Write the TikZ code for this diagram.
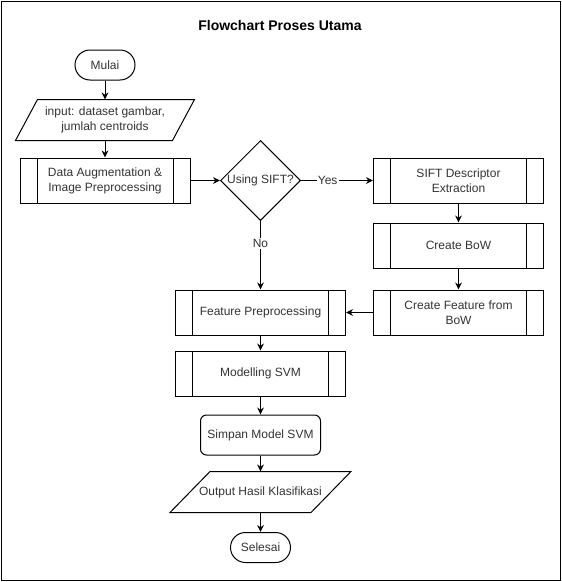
\documentclass[tikz,border=0pt]{standalone}
\usepackage{fontspec}
\setmainfont{Liberation Sans}
\usetikzlibrary{arrows.meta,shapes.geometric,calc}
\begin{document}
\begin{tikzpicture}[x=0.75pt,y=-0.75pt, line width=0.75pt,
 every node/.style={font=\fontsize{9}{11.25}\selectfont, text=black!80, align=center},
 proc/.style={draw, minimum width=127.5pt, minimum height=33.75pt, inner sep=0pt,
   path picture={\draw[line width=0.75pt] ([xshift=12.75pt]path picture bounding box.north west) -- ([xshift=12.75pt]path picture bounding box.south west);
                 \draw[line width=0.75pt] ([xshift=-12.75pt]path picture bounding box.north east) -- ([xshift=-12.75pt]path picture bounding box.south east);}},
 term/.style={draw, rounded corners=11.25pt, minimum width=45pt, minimum height=22.5pt, inner sep=0pt},
 arr/.style={-{Stealth[length=5.25pt,width=5pt]}},
 lab/.style={fill=white, inner sep=1pt}
]
\useasboundingbox (0,0) rectangle (561,582);
\draw (1,1) rectangle (560,580);
\node[font=\bfseries\fontsize{10.5}{12}\selectfont, text=black] (title) at (280,25) {Flowchart Proses Utama};
\node[term] (start) at (105,65) {Mulai};
\node[minimum width=133.5pt, minimum height=30pt, inner sep=0pt] (in) at (105,120) {input: dataset gambar,\\jumlah centroids};
\draw ($(in.north west)+(22,0)$) -- (in.north east) -- ($(in.south east)+(-22,0)$) -- (in.south west) -- cycle;
\node[proc] (aug) at (105,180.5) {Data Augmentation \&\\Image Preprocessing};
\node[diamond, draw, minimum width=60pt, minimum height=60pt, inner sep=0pt] (dec) at (260.5,180.5) {};
\node (dectext) at (dec) {Using SIFT?};
\node[proc] (sift) at (458.5,180.5) {SIFT Descriptor\\Extraction};
\node[proc] (bow) at (458.5,245.5) {Create BoW};
\node[proc] (feat) at (458.5,312.5) {Create Feature from\\BoW};
\node[proc] (fp) at (260.5,312.5) {Feature Preprocessing};
\node[proc] (svm) at (260.5,373.5) {Modelling SVM};
\node[draw, rounded corners=4.5pt, minimum width=90pt, minimum height=30pt] (save) at (260.5,435) {Simpan Model SVM};
\node[minimum width=135pt, minimum height=30pt, inner sep=0pt] (out) at (260.5,492) {Output Hasil Klasifikasi};
\draw ($(out.north west)+(40,0)$) -- (out.north east) -- ($(out.south east)+(-40,0)$) -- (out.south west) -- cycle;
\node[term] (end) at (260.5,547.5) {Selesai};
\draw[arr] (start.south) -- (in.north);
\draw[arr] (in.south) -- (aug.north);
\draw[arr] (aug.east) -- (dec.west);
\draw[arr] (dec.east) -- node[lab, pos=0.37]{Yes} (sift.west);
\draw[arr] (dec.south) -- node[lab, pos=0.33]{No} (fp.north);
\draw[arr] (sift.south) -- (bow.north);
\draw[arr] (bow.south) -- (feat.north);
\draw[arr] (feat.west) -- (fp.east);
\draw[arr] (fp.south) -- (svm.north);
\draw[arr] (svm.south) -- (save.north);
\draw[arr] (save.south) -- (out.north);
\draw[arr] (out.south) -- (end.north);
\end{tikzpicture}
\end{document}
